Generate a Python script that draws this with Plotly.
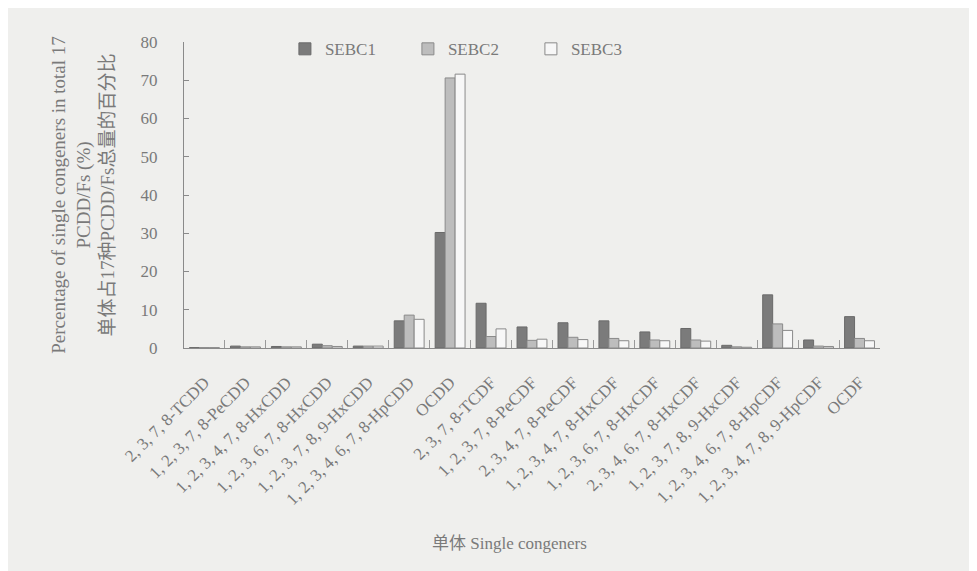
import plotly.graph_objects as go

categories = ["2, 3, 7, 8-TCDD", "1, 2, 3, 7, 8-PeCDD", "1, 2, 3, 4, 7, 8-HxCDD",
              "1, 2, 3, 6, 7, 8-HxCDD", "1, 2, 3, 7, 8, 9-HxCDD", "1, 2, 3, 4, 6, 7, 8-HpCDD",
              "OCDD", "2, 3, 7, 8-TCDF", "1, 2, 3, 7, 8-PeCDF", "2, 3, 4, 7, 8-PeCDF",
              "1, 2, 3, 4, 7, 8-HxCDF", "1, 2, 3, 6, 7, 8-HxCDF", "2, 3, 4, 6, 7, 8-HxCDF",
              "1, 2, 3, 7, 8, 9-HxCDF", "1, 2, 3, 4, 6, 7, 8-HpCDF", "1, 2, 3, 4, 7, 8, 9-HpCDF",
              "OCDF"]
sebc1 = [0.1, 0.5, 0.4, 1.0, 0.5, 7.1, 30.2, 11.7, 5.5, 6.6, 7.1, 4.2, 5.1, 0.7, 13.9, 2.1, 8.2]
sebc2 = [0.1, 0.3, 0.3, 0.6, 0.5, 8.6, 70.6, 3.0, 2.0, 2.8, 2.5, 2.1, 2.1, 0.3, 6.3, 0.5, 2.5]
sebc3 = [0.1, 0.3, 0.3, 0.4, 0.5, 7.5, 71.6, 5.0, 2.3, 2.2, 1.9, 1.9, 1.8, 0.2, 4.6, 0.4, 1.9]
y_ticks = [0, 10, 20, 30, 40, 50, 60, 70, 80]

serif = "Liberation Serif, Noto Sans CJK SC, serif"
txt = "#7a7a7a"

fig = go.Figure()
fig.add_bar(x=categories, y=sebc1, name="SEBC1",
            marker=dict(color="#7b7b7b", line=dict(color="#6a6a6a", width=1)))
fig.add_bar(x=categories, y=sebc2, name="SEBC2",
            marker=dict(color="#bdbdbd", line=dict(color="#8a8a8a", width=1)))
fig.add_bar(x=categories, y=sebc3, name="SEBC3",
            marker=dict(color="#f7f7f7", line=dict(color="#8a8a8a", width=1)))

fig.update_layout(
    width=969, height=563,
    paper_bgcolor="#efefed", plot_bgcolor="#efefed",
    margin=dict(l=176, r=97, t=34, b=223),
    barmode="group", bargap=0.27, bargroupgap=0,
    font=dict(family=serif, color=txt, size=16),
    legend=dict(orientation="h", x=0.145, y=1.035, xanchor="left", yanchor="top",
                entrywidth=78, font=dict(size=17, color=txt), bgcolor="rgba(0,0,0,0)",
                itemwidth=30),
    showlegend=True,
    annotations=[dict(text="单体 Single congeners", xref="paper", yref="paper",
                      x=(509 - 184) / 696, y=-(543 - 348) / 306, xanchor="center", yanchor="middle",
                      showarrow=False, font=dict(size=17, color=txt))],
)
fig.update_yaxes(range=[0, 80], tickvals=y_ticks, showgrid=False, zeroline=False,
                 showline=True, linecolor="#8a8a8a", linewidth=1,
                 ticks="inside", ticklen=5, tickcolor="#8a8a8a",
                 tickfont=dict(size=17, color=txt), ticklabelstandoff=22,
                 title=dict(text="Percentage of single congeners in total 17<br>PCDD/Fs (%)<br>单体占17种PCDD/Fs总量的百分比",
                            font=dict(size=19, color=txt), standoff=20))
fig.update_xaxes(showgrid=False, showline=True, linecolor="#8a8a8a", linewidth=1,
                 ticks="inside", tickson="boundaries", ticklen=8, tickcolor="#9a9a9a",
                 tickangle=-45, tickfont=dict(size=17, color=txt), ticklabelstandoff=17)

fig.write_html("out.html")
